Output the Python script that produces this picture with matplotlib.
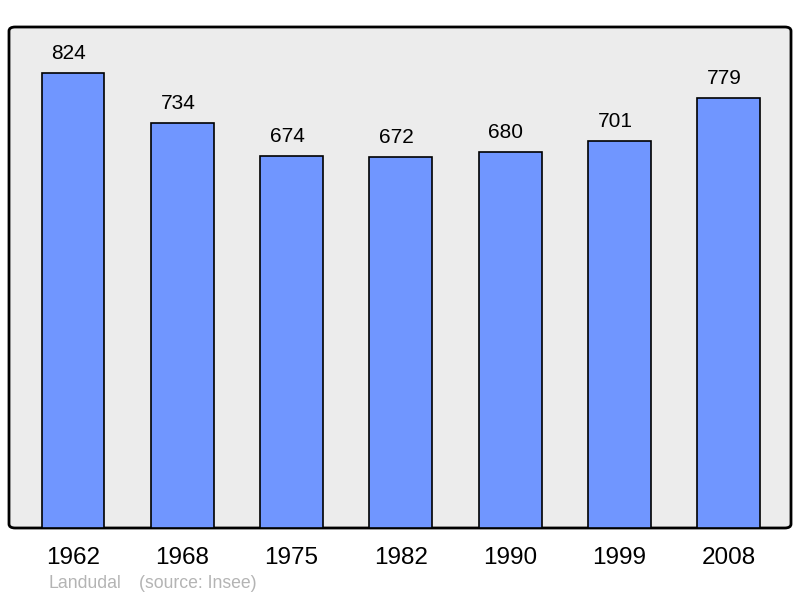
import matplotlib
matplotlib.use("Agg")
import matplotlib.pyplot as plt
from matplotlib.patches import FancyBboxPatch

years = ['1962', '1968', '1975', '1982', '1990', '1999', '2008']
population = [824, 734, 674, 672, 680, 701, 779]
commune = 'Landudal'
source = '(source: Insee)'

plt.rcParams['font.family'] = ['Liberation Sans', 'DejaVu Sans']

fig = plt.figure(figsize=(8, 5.98), dpi=100)
ax = fig.add_axes([9/800, 70/598, 782/800, 501/598])

# background frame with rounded corners
ax.patch.set_visible(False)
for s in ax.spines.values():
    s.set_visible(False)
frame = FancyBboxPatch((0, 0), 1, 1, boxstyle='round,pad=0,rounding_size=0.008',
                       transform=ax.transAxes, facecolor='#ececec',
                       edgecolor='black', linewidth=2, zorder=0, clip_on=False)
ax.add_patch(frame)

pos = range(len(years))
ax.bar(pos, population, width=0.575, color='#7096ff', edgecolor='black',
       linewidth=1.2, zorder=2)
for p, v in zip(pos, population):
    ax.text(p - 0.04, v + 18, str(v), ha='center', va='bottom', fontsize=15,
            color='black')

ax.set_xlim(-0.585, 6.57)
ax.set_ylim(0, 907)
ax.set_yticks([])
ax.set_xticks(list(pos))
ax.set_xticklabels(years, fontsize=17.5)
ax.tick_params(axis='x', length=0, pad=14)

fig.text(49/800, 1 - 584/598, commune, fontsize=12.7, color='#b4b4b4', va='center')
fig.text(139/800, 1 - 584/598, source, fontsize=12.7, color='#b4b4b4', va='center')

fig.savefig('out.png', dpi=100)
